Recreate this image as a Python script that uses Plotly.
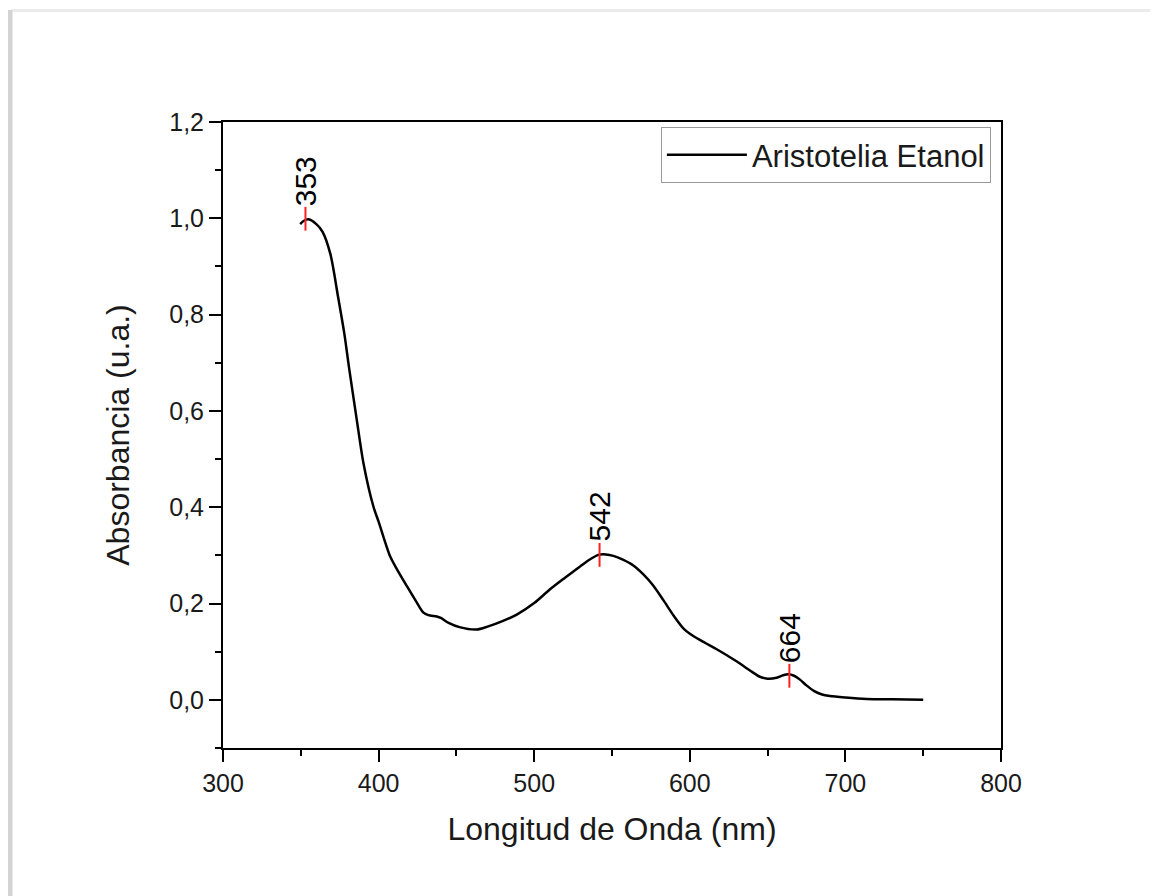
import plotly.graph_objects as go

# ---- data ----
wavelength = [349.6, 352, 355, 360, 364, 369, 374, 378, 381, 386, 390.3, 396.7, 400,
              407.4, 412, 418.2, 424, 428.8, 432, 437.4, 440, 445, 452, 463, 470, 480,
              488.8, 500, 510, 520, 529.5, 536, 541.2, 546, 550.9, 557, 563.7, 570,
              576.6, 583, 590, 596, 602, 610, 617.3, 630, 640, 645, 650, 655.8, 660, 663.3,
              667, 670.8, 675, 680, 685, 690, 700, 713.6, 730, 750]
absorbance = [0.988, 0.995, 0.998, 0.988, 0.972, 0.926, 0.836, 0.76, 0.69, 0.581, 0.491,
              0.401, 0.37, 0.298, 0.27, 0.236, 0.205, 0.181, 0.176, 0.173, 0.170, 0.160,
              0.151, 0.146, 0.152, 0.164, 0.177, 0.201, 0.229, 0.254, 0.277, 0.292,
              0.301, 0.302, 0.299, 0.291, 0.279, 0.261, 0.237, 0.207, 0.173, 0.148, 0.133,
              0.118, 0.105, 0.080, 0.058, 0.048, 0.044, 0.046, 0.051, 0.053, 0.050, 0.042,
              0.030, 0.018, 0.011, 0.008, 0.005, 0.002, 0.001, 0.0]
peak_x = [353, 542, 664]
peak_y = [0.999, 0.301, 0.050]
peak_labels = ["353", "542", "664"]
series_name = "Aristotelia Etanol"
x_title = "Longitud de Onda (nm)"
y_title = "Absorbancia (u.a.)"

FONT = "Arial, 'Liberation Sans', sans-serif"

# the page body adds an 8px offset, so the figure is sized to fit inside it
W, H = 1150, 888
L, R, T, B = 215, 157, 114, 148

fig = go.Figure()
fig.add_trace(go.Scatter(
    x=wavelength, y=absorbance, mode="lines", name=series_name,
    line=dict(color="black", width=2.5, shape="spline", smoothing=0.8),
))
fig.add_trace(go.Scatter(
    x=peak_x, y=peak_y, mode="markers", showlegend=False,
    marker=dict(symbol="line-ns", size=17, line=dict(color="#ff2020", width=2)),
))
for px, py, lab in zip(peak_x, peak_y, peak_labels):
    fig.add_annotation(x=px, y=py, text=lab, showarrow=False, textangle=-90,
                       xanchor="center", yanchor="bottom", yshift=11,
                       font=dict(family=FONT, size=30, color="black"))

axis_common = dict(
    showline=True, linecolor="black", linewidth=2, mirror=True,
    ticks="outside", ticklen=12, tickwidth=2, tickcolor="black",
    showgrid=False, zeroline=False,
    tickfont=dict(family=FONT, size=25, color="#1a1a1a"),
)
fig.update_xaxes(range=[300, 800], dtick=100, tick0=300,
                 minor=dict(ticks="outside", ticklen=6, tickwidth=2, tickcolor="black", dtick=50),
                 title=dict(text=x_title, font=dict(family=FONT, size=32, color="#1a1a1a"), standoff=22),
                 **axis_common)
fig.update_yaxes(range=[-0.1, 1.2], dtick=0.2, tick0=0, tickformat=".1f",
                 minor=dict(ticks="outside", ticklen=6, tickwidth=2, tickcolor="black", dtick=0.1, tick0=0),
                 title=dict(text=y_title, font=dict(family=FONT, size=32, color="#1a1a1a"), standoff=30),
                 **axis_common)

pw, ph = W - L - R, H - T - B
def paper_x(p):
    return (p - L) / pw
def paper_y(p):
    return (H - B - p) / ph

# page shadow edges (figure coordinates)
fig.add_shape(type="line", xref="paper", yref="paper",
              x0=paper_x(3), x1=paper_x(1150), y0=paper_y(2.5), y1=paper_y(2.5),
              line=dict(color="#ebebeb", width=3), layer="below")
fig.add_shape(type="line", xref="paper", yref="paper",
              x0=paper_x(2), x1=paper_x(2), y0=paper_y(2), y1=paper_y(888),
              line=dict(color="#d4d4d4", width=5), layer="below")

fig.update_layout(
    width=W, height=H,
    margin=dict(l=L, r=R, t=T, b=B),
    paper_bgcolor="white", plot_bgcolor="white",
    separators=",.",
    font=dict(family=FONT, color="#1a1a1a"),
    showlegend=True,
    legend=dict(x=0.987, y=0.992, xanchor="right", yanchor="top",
                bgcolor="white", bordercolor="#9a9a9a", borderwidth=1,
                font=dict(family=FONT, size=31, color="#1a1a1a"),
                tracegroupgap=0, itemwidth=80),
)

fig.write_html("out.html")
